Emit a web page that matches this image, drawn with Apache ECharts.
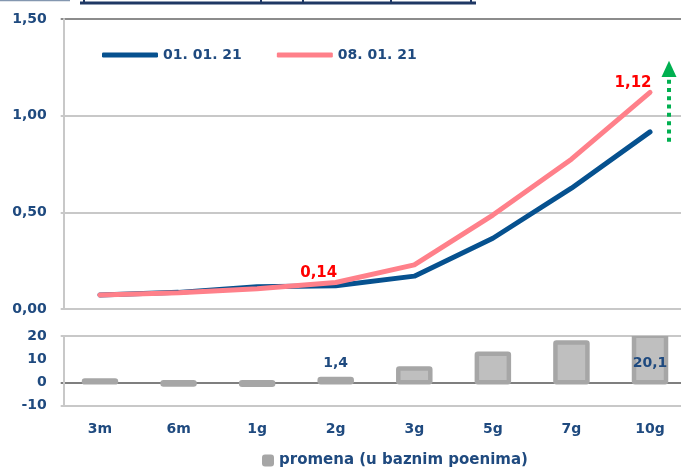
<!DOCTYPE html>
<html>
<head>
<meta charset="utf-8">
<script src="https://cdn.jsdelivr.net/npm/echarts@6/dist/echarts.min.js"></script>
<style>
html,body{margin:0;padding:0;background:#fff;}
#c{width:681px;height:471px;}
</style>
</head>
<body>
<div id="c"></div>
<script>
// ---- data ----
const categories = ['3m', '6m', '1g', '2g', '3g', '5g', '7g', '10g'];
const seriesNames = ['01. 01. 21', '08. 01. 21'];
const yield0101 = [0.072, 0.086, 0.115, 0.120, 0.170, 0.366, 0.625, 0.916];
const yield0801 = [0.072, 0.084, 0.105, 0.137, 0.228, 0.486, 0.775, 1.120];
const changeName = 'promena (u baznim poenima)';
const changeBp = [0.8, -0.9, -1.0, 1.4, 6.0, 12.3, 17.2, 20.1];
const labelledYieldCats = ['2g', '10g'];
const labelAboveBarCats = ['2g'];
const labelInsideBarCats = ['10g'];
const topTicks = [0, 1.5, 0.5];      // min, max, interval
const bottomTicks = [-10, 20, 10];   // min, max, interval
const arrowRange = [0.865, 1.19, 1.284]; // dotted start, dotted end, head tip (yield units)

// ---- styles ----
const FONT = 'DejaVu Sans';
const NAVY_TXT = '#1F4A7F';
const NAVY = '#06518F';
const PINK = '#FF808A';
const LIGHT = '#C8C8C8';
const BAR_FILL = '#BFBFBF';
const BAR_EDGE = '#A6A6A6';

const chart = echarts.init(document.getElementById('c'), null, {renderer: 'canvas'});

const fmt2 = v => v.toFixed(2).replace('.', ',');
const fmt1 = v => v.toFixed(1).replace('.', ',');

const pinkData = yield0801.map((v, i) => {
  if (labelledYieldCats.indexOf(categories[i]) >= 0) {
    return {value: v, label: {show: true}};
  }
  return v;
});
const barData = changeBp.map((v, i) => [i, v]);

function renderBar(params, api) {
  const ci = api.value(0);
  const v = api.value(1);
  const p0 = api.coord([ci, 0]);
  const p1 = api.coord([ci, v]);
  const bw = 32;
  const y = Math.min(p0[1], p1[1]);
  const h = Math.abs(p0[1] - p1[1]);
  const children = [{
    type: 'rect',
    shape: {x: p0[0] - bw / 2, y: y, width: bw, height: h, r: 1},
    style: {fill: BAR_FILL, stroke: BAR_EDGE, lineWidth: 4.5, lineJoin: 'round'}
  }];
  const cat = categories[ci];
  const txtStyle = {
    fill: NAVY_TXT, font: 'bold 14px "' + FONT + '"', align: 'center'
  };
  if (labelAboveBarCats.indexOf(cat) >= 0) {
    children.push({
      type: 'text',
      style: Object.assign({}, txtStyle, {x: p0[0], y: p1[1] - 9, text: fmt1(v), verticalAlign: 'bottom'}),
      z2: 20
    });
  }
  if (labelInsideBarCats.indexOf(cat) >= 0) {
    children.push({
      type: 'text',
      style: Object.assign({}, txtStyle, {x: p0[0], y: (p0[1] + p1[1]) / 2 + 4, text: fmt1(v), verticalAlign: 'middle'}),
      z2: 20
    });
  }
  return {type: 'group', children: children};
}

const gridLeft = 60.7;
const gridWidth = 628.6;

const option = {
  animation: false,
  backgroundColor: '#ffffff',
  textStyle: {fontFamily: FONT},
  legend: [
    {
      data: seriesNames,
      left: 102,
      top: 48,
      padding: 0,
      itemWidth: 56,
      itemHeight: 5,
      itemGap: 35,
      icon: 'roundRect',
      textStyle: {color: NAVY_TXT, fontWeight: 'bold', fontSize: 14, fontFamily: FONT}
    },
    {
      data: [changeName],
      left: 262,
      top: 453,
      padding: 0,
      itemWidth: 12,
      itemHeight: 12,
      itemGap: 10,
      icon: 'roundRect',
      itemStyle: {color: BAR_EDGE, borderWidth: 0},
      textStyle: {color: NAVY_TXT, fontWeight: 'bold', fontSize: 15, fontFamily: FONT}
    }
  ],
  grid: [
    {left: gridLeft, width: gridWidth, top: 19, height: 290, containLabel: false, outerBoundsMode: 'none'},
    {left: gridLeft, width: gridWidth, top: 336, height: 69.5, containLabel: false, outerBoundsMode: 'none'}
  ],
  xAxis: [
    {
      type: 'category', gridIndex: 0, data: categories, boundaryGap: true,
      axisLine: {show: false}, axisTick: {show: false}, axisLabel: {show: false},
      splitLine: {show: false}
    },
    {
      type: 'category', gridIndex: 1, data: categories, boundaryGap: true,
      axisLine: {show: false}, axisTick: {show: false},
      axisLabel: {color: NAVY_TXT, fontWeight: 'bold', fontSize: 14, fontFamily: FONT, margin: 17},
      splitLine: {show: false}
    }
  ],
  yAxis: [
    {
      type: 'value', gridIndex: 0, min: topTicks[0], max: topTicks[1], interval: topTicks[2],
      offset: -3,
      axisLine: {show: true, lineStyle: {color: LIGHT, width: 2}},
      axisTick: {show: false},
      axisLabel: {color: NAVY_TXT, fontWeight: 'bold', fontSize: 14, fontFamily: FONT, margin: 17, formatter: fmt2},
      splitLine: {show: true, lineStyle: {color: [LIGHT, LIGHT, LIGHT, '#8C8C8C'], width: 2}}
    },
    {
      type: 'value', gridIndex: 1, min: bottomTicks[0], max: bottomTicks[1], interval: bottomTicks[2],
      offset: -3,
      axisLine: {show: true, lineStyle: {color: LIGHT, width: 2}},
      axisTick: {show: false},
      axisLabel: {color: NAVY_TXT, fontWeight: 'bold', fontSize: 14, fontFamily: FONT, margin: 17},
      splitLine: {show: true, lineStyle: {color: [LIGHT, '#7F7F7F', 'rgba(0,0,0,0)', LIGHT], width: 2}}
    }
  ],
  series: [
    {
      name: seriesNames[0], type: 'line', xAxisIndex: 0, yAxisIndex: 0,
      data: yield0101,
      symbol: 'none',
      color: NAVY,
      lineStyle: {color: NAVY, width: 5, cap: 'round', join: 'round'},
      z: 3
    },
    {
      name: seriesNames[1], type: 'line', xAxisIndex: 0, yAxisIndex: 0,
      data: pinkData,
      symbol: 'circle', symbolSize: 1, showSymbol: true,
      color: PINK,
      itemStyle: {color: PINK},
      lineStyle: {color: PINK, width: 5, cap: 'round', join: 'round'},
      label: {
        show: false, position: 'top', distance: 5, offset: [-17, 4],
        color: '#FF0000', fontWeight: 'bold', fontSize: 15, fontFamily: FONT,
        formatter: p => fmt2(p.value)
      },
      z: 4
    },
    {
      name: changeName, type: 'custom', xAxisIndex: 1, yAxisIndex: 1,
      data: barData,
      encode: {x: 0, y: 1},
      renderItem: renderBar,
      clip: true,
      color: BAR_EDGE,
      itemStyle: {color: BAR_EDGE},
      z: 3
    }
  ]
};
chart.setOption(option);

// ---- decorations: cropped title underline and green dotted arrow ----
const lastCat = categories[categories.length - 1];
const pStart = chart.convertToPixel({xAxisIndex: 0, yAxisIndex: 0}, [lastCat, arrowRange[0]]);
const pEnd = chart.convertToPixel({xAxisIndex: 0, yAxisIndex: 0}, [lastCat, arrowRange[1]]);
const pTip = chart.convertToPixel({xAxisIndex: 0, yAxisIndex: 0}, [lastCat, arrowRange[2]]);
const ax = pStart[0] + 19;
const GREEN = '#00B050';

chart.setOption({
  graphic: [
    {type: 'line', shape: {x1: 0, y1: 0.5, x2: 70, y2: 0.5}, style: {stroke: '#8497B0', lineWidth: 1.5}},
    {type: 'line', shape: {x1: 80, y1: 3, x2: 476, y2: 3}, style: {stroke: '#1F3864', lineWidth: 3}},
    {type: 'line', shape: {x1: 84, y1: 0, x2: 84, y2: 3}, style: {stroke: '#1F3864', lineWidth: 2}},
    {type: 'line', shape: {x1: 261, y1: 0, x2: 261, y2: 3}, style: {stroke: '#1F3864', lineWidth: 2}},
    {type: 'line', shape: {x1: 303, y1: 0, x2: 303, y2: 3}, style: {stroke: '#1F3864', lineWidth: 2}},
    {type: 'line', shape: {x1: 391, y1: 0, x2: 391, y2: 3}, style: {stroke: '#1F3864', lineWidth: 2}},
    {type: 'line', shape: {x1: 471, y1: 0, x2: 471, y2: 3}, style: {stroke: '#1F3864', lineWidth: 2}},
    {
      type: 'line',
      shape: {x1: ax, y1: pStart[1], x2: ax, y2: pEnd[1]},
      style: {stroke: GREEN, lineWidth: 4, lineDash: [4, 4.3]},
      z: 10
    },
    {
      type: 'polygon',
      shape: {points: [[ax - 7.5, pEnd[1] - 2], [ax + 7.5, pEnd[1] - 2], [ax, pTip[1]]]},
      style: {fill: GREEN},
      z: 10
    }
  ]
});
</script>
</body>
</html>
